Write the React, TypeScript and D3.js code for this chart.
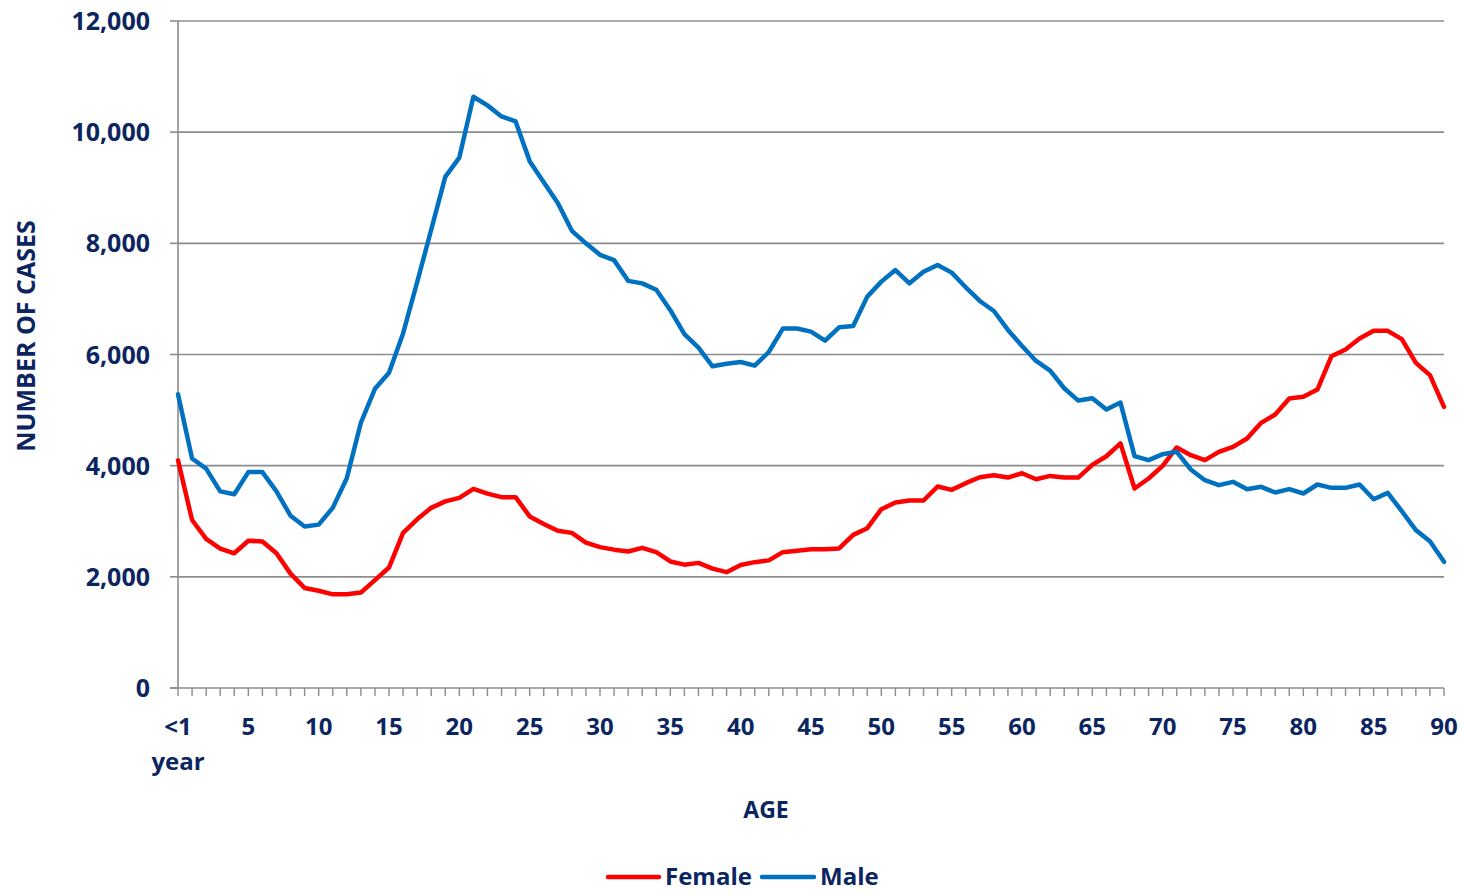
import React from "react";
import * as d3 from "d3";

const ages: number[] = Array.from({ length: 91 }, (_, i) => i);

const female: number[] = [
  4096, 3022, 2682, 2508, 2424, 2649, 2637, 2424, 2058, 1800,
  1749, 1685, 1685, 1717, 1942, 2167, 2791, 3035, 3241, 3357,
  3421, 3582, 3498, 3434, 3434, 3087, 2952, 2830, 2791, 2617,
  2534, 2489, 2456, 2521, 2444, 2277, 2219, 2251, 2148, 2084,
  2212, 2264, 2296, 2444, 2470, 2498, 2498, 2510, 2755, 2875,
  3217, 3337, 3373, 3373, 3625, 3565, 3685, 3792, 3828, 3786,
  3864, 3756, 3816, 3786, 3786, 4014, 4170, 4400, 3589, 3769,
  3997, 4327, 4189, 4099, 4249, 4339, 4489, 4771, 4921, 5208,
  5238, 5370, 5970, 6090, 6288, 6426, 6426, 6276, 5850, 5628,
  5058,
];

const male: number[] = [
  5286, 4129, 3948, 3537, 3485, 3884, 3884, 3537, 3100, 2907,
  2939, 3241, 3775, 4772, 5383, 5672, 6379, 7300, 8244, 9196,
  9543, 10637, 10482, 10283, 10193, 9479, 9100, 8727, 8225, 8000,
  7794, 7698, 7325, 7280, 7164, 6797, 6366, 6122, 5788, 5833,
  5865, 5800, 6045, 6467, 6467, 6412, 6250, 6490, 6513, 7041,
  7311, 7520, 7281, 7490, 7610, 7473, 7209, 6963, 6783, 6442,
  6154, 5884, 5710, 5393, 5171, 5213, 5012, 5135, 4171, 4099,
  4207, 4249, 3931, 3739, 3649, 3709, 3577, 3619, 3517, 3577,
  3499, 3661, 3601, 3601, 3661, 3397, 3511, 3181, 2840, 2642,
  2270,
];

const yTicks: number[] = [0, 2000, 4000, 6000, 8000, 10000, 12000];
const xLabelTicks: number[] = [0, 5, 10, 15, 20, 25, 30, 35, 40, 45, 50, 55, 60, 65, 70, 75, 80, 85, 90];

const seriesNames = ["Female", "Male"];
const seriesColors = ["#FF0000", "#0070C0"];

const W = 1461;
const H = 894;
const left = 178;
const right = 1444;
const top = 21;
const bottom = 688;
const textColor = "#0B2560";
const gridColor = "#8C8C8C";
const font = "'Open Sans', Lato, sans-serif";

export default function App() {
  const x = d3.scaleLinear().domain([0, 90]).range([left, right]);
  const y = d3.scaleLinear().domain([0, 12000]).range([bottom, top]);
  const line = d3
    .line<number>()
    .x((_, i) => x(ages[i]))
    .y((d) => y(d));

  const series = [female, male];

  return (
    <div style={{ position: "absolute", left: 0, top: 0 }}>
      <svg width={W} height={H} style={{ display: "block", background: "#fff" }} fontFamily={font}>
        {yTicks.map((t) => (
          <g key={t}>
            {t > 0 && (
              <line x1={left} x2={right} y1={y(t)} y2={y(t)} stroke={gridColor} strokeWidth={1.6} />
            )}
            <line x1={left - 8} x2={left} y1={y(t)} y2={y(t)} stroke={gridColor} strokeWidth={1.6} />
            <text
              x={150}
              y={y(t)}
              dy="0.36em"
              textAnchor="end"
              fontSize={25}
              fontWeight={700}
              fill={textColor}
            >
              {d3.format(",")(t)}
            </text>
          </g>
        ))}
        <line x1={left} x2={left} y1={top} y2={bottom} stroke={gridColor} strokeWidth={1.6} />
        <line x1={left - 8} x2={right} y1={bottom} y2={bottom} stroke={gridColor} strokeWidth={1.6} />
        {ages.map((a) => (
          <line key={a} x1={x(a)} x2={x(a)} y1={bottom} y2={bottom + 8} stroke={gridColor} strokeWidth={1.4} />
        ))}
        {xLabelTicks.map((t) =>
          t === 0 ? (
            <text key={t} textAnchor="middle" fontSize={24} fontWeight={700} fill={textColor}>
              <tspan x={x(t)} y={735}>{"<1"}</tspan>
              <tspan x={x(t)} y={770}>year</tspan>
            </text>
          ) : (
            <text key={t} x={x(t)} y={735} textAnchor="middle" fontSize={24} fontWeight={700} fill={textColor}>
              {t}
            </text>
          )
        )}
        {series.map((s, i) => (
          <path
            key={seriesNames[i]}
            d={line(s) || ""}
            fill="none"
            stroke={seriesColors[i]}
            strokeWidth={4.5}
            strokeLinejoin="round"
            strokeLinecap="round"
          />
        ))}
        <text x={766} y={818} textAnchor="middle" fontSize={23} fontWeight={700} fill={textColor}>
          AGE
        </text>
        <text
          transform={`translate(35, 336) rotate(-90)`}
          textAnchor="middle"
          fontSize={25}
          fontWeight={700}
          fill={textColor}
        >
          NUMBER OF CASES
        </text>
        <line x1={608} x2={659} y1={877} y2={877} stroke={seriesColors[0]} strokeWidth={4.5} strokeLinecap="round" />
        <text x={665} y={885} fontSize={24} fontWeight={700} fill={textColor}>
          {seriesNames[0]}
        </text>
        <line x1={762} x2={814} y1={877} y2={877} stroke={seriesColors[1]} strokeWidth={4.5} strokeLinecap="round" />
        <text x={820} y={885} fontSize={24} fontWeight={700} fill={textColor}>
          {seriesNames[1]}
        </text>
      </svg>
    </div>
  );
}
